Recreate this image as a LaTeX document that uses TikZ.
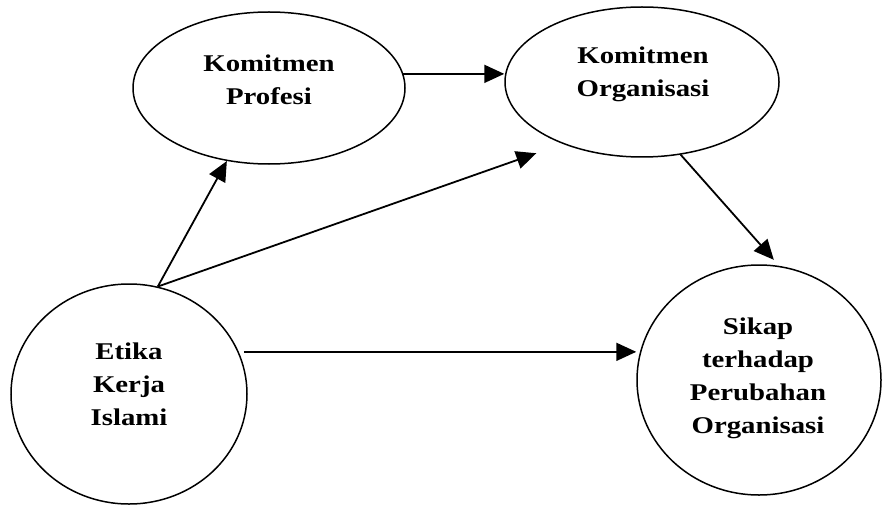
\documentclass[tikz,border=0pt]{standalone}
\usepackage{fontspec}
\setmainfont{Liberation Serif}[FakeStretch=1.2]
\usetikzlibrary{shapes.geometric,arrows.meta}
\begin{document}
\begin{tikzpicture}[x=1pt,y=-1pt,
  oval/.style={draw, ellipse, line width=1.5pt, inner sep=0pt},
  lbl/.style={align=center, font=\bfseries\fontsize{24}{33}\selectfont, inner sep=0pt},
  arr/.style={line width=1.8pt, -{Triangle[length=20pt,width=18pt]}}]
\useasboundingbox (0,0) rectangle (882,505);
\node[oval, minimum width=272pt, minimum height=152pt] (kp) at (269,88) {};
\node[lbl] (kpt) at (269,80) {Komitmen\\Profesi};
\node[oval, minimum width=274pt, minimum height=150pt] (ko) at (642,82) {};
\node[lbl] (kot) at (643,74) {Komitmen\\Organisasi};
\node[oval, minimum width=236pt, minimum height=220pt] (ek) at (129,394) {};
\node[lbl] (ekt) at (129,384) {Etika\\Kerja\\Islami};
\node[oval, minimum width=244pt, minimum height=230pt] (sk) at (759,380) {};
\node[lbl] (skt) at (758,378) {Sikap\\terhadap\\Perubahan\\Organisasi};
\draw[arr] (kp.6) -- (kp.6 -| ko.west);
\draw[arr] (ek.75) -- (kp.240);
\draw[arr, shorten >=28pt] (ek.75) -- (ko.218);
\draw[arr, shorten >=8pt] (ko.298) -- (sk.80);
\draw[arr, shorten <=5pt] (ek.21) -- (ek.21 -| sk.west);
\end{tikzpicture}
\end{document}
